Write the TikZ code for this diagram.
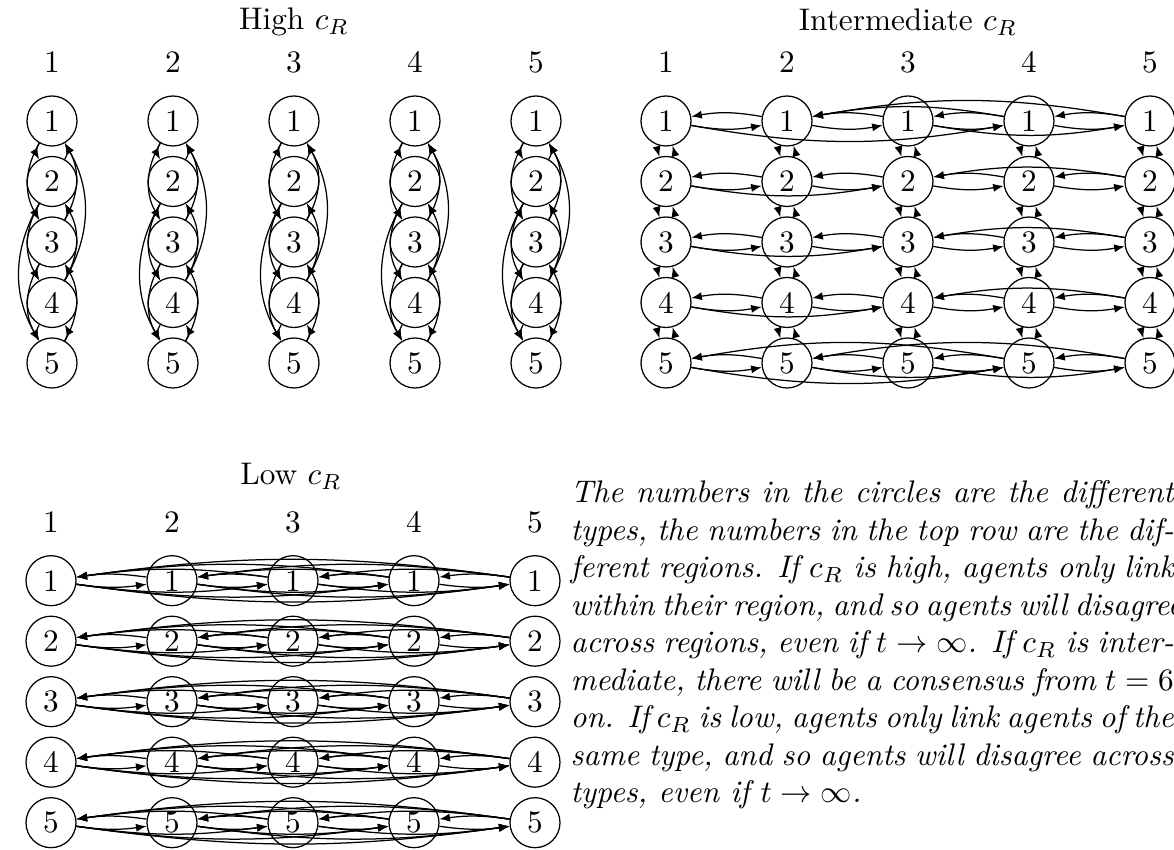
\documentclass[tikz,border=0pt]{standalone}
\usetikzlibrary{arrows.meta}
\begin{document}
\begin{tikzpicture}[x=0.32pt,y=0.32pt,
  agent/.style={circle,draw,line width=0.4pt,minimum size=16pt,inner sep=0pt},
  link/.style={line width=0.4pt,-{Latex[length=3.4pt,width=2.6pt]}},
  lbl/.style={inner sep=0pt}]
\useasboundingbox (0,0) rectangle (1174,850);
% ---------- titles ----------
\node[lbl] (tH) at (294,828) {High $c_R$};
\node[lbl] (tI) at (908,828) {Intermediate $c_R$};
\node[lbl] (tL) at (291,374) {Low $c_R$};
\foreach \c in {1,...,5}{
  \node[lbl] (hl\c) at ({52+121*(\c-1)},788) {\c};
  \node[lbl] (il\c) at ({666+121*(\c-1)},788) {\c};
  \node[lbl] (ll\c) at ({51+121*(\c-1)},328) {\c};
}
% ---------- nodes ----------
\foreach \c in {1,...,5}{
  \foreach \r in {1,...,5}{
    \node[agent] (h\c\r) at ({52+121*(\c-1)},{729-60.5*(\r-1)}) {\r};
    \node[agent] (i\c\r) at ({666+121*(\c-1)},{729-60.5*(\r-1)}) {\r};
    \node[agent] (l\c\r) at ({51+121*(\c-1)},{269.3-60.5*(\r-1)}) {\r};
  }
}
% ---------- high c_R ----------
\foreach \c in {1,...,5}{
  \foreach \a/\b in {1/2,2/1,2/3,3/2,3/4,4/3,4/5,5/4,1/3,3/1,2/4,4/2,3/5,5/3,2/5,4/1}{
    \draw[link] (h\c\a) to[bend right=30] (h\c\b);
  }
}
% ---------- intermediate c_R ----------
\foreach \c in {1,...,5}{
  \foreach \a/\b in {1/2,2/1,2/3,3/2,3/4,4/3,4/5,5/4}{
    \draw[link] (i\c\a) to[bend right=15] (i\c\b);
  }
}
\foreach \r in {1,...,5}{
  \foreach \a/\b in {1/2,2/1,2/3,3/2,3/4,4/3,4/5,5/4}{
    \draw[link] (i\a\r) to[bend right=10] (i\b\r);
  }
}
\foreach \r in {2,3,4}{
  \foreach \a/\b in {1/3,5/3}{
    \draw[link] (i\a\r) to[bend right=10] (i\b\r);
  }
}
\foreach \a/\b in {1/4,3/5,5/2,4/2}{
  \draw[link] (i\a1) to[bend right=10] (i\b1);
}
\foreach \a/\b in {1/4,2/4,3/5,5/2,4/1}{
  \draw[link] (i\a5) to[bend right=10] (i\b5);
}
% ---------- low c_R ----------
\foreach \r in {1,...,5}{
  \foreach \a/\b in {1/2,2/1,2/3,3/2,3/4,4/3,4/5,5/4,1/3,3/1,2/4,4/2,3/5,5/3,1/4,4/1,2/5,5/2,1/5,5/1}{
    \draw[link] (l\a\r) to[bend right=8] (l\b\r);
  }
}
% ---------- text ----------
\node[anchor=north west,inner sep=0pt,font=\itshape] (txt) at (570,370)
{\vbox{\hsize=193pt\baselineskip=12pt
\hbox to\hsize{The numbers in the circles are the different}
\hbox to\hsize{types, the numbers in the top row are the dif-}
\hbox to\hsize{ferent regions. If $c_R$ is high, agents only link}
\hbox to\hsize{within their region, and so agents will disagree}
\hbox to\hsize{across regions, even if $t\to\infty$. If $c_R$ is inter-}
\hbox to\hsize{mediate, there will be a consensus from $t=6$}
\hbox to\hsize{on. If $c_R$ is low, agents only link agents of the}
\hbox to\hsize{same type, and so agents will disagree across}
\hbox{types, even if $t\to\infty$.}}};
\end{tikzpicture}
\end{document}
